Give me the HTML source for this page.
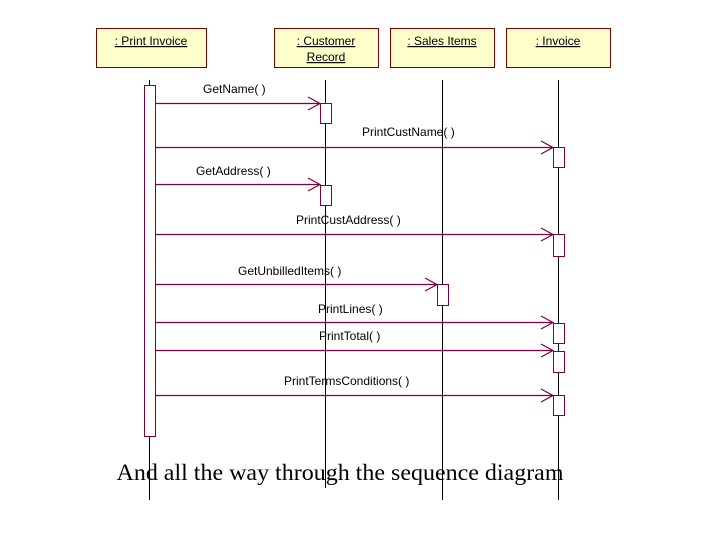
<!DOCTYPE html>
<html><head><meta charset="utf-8"><style>
html,body{margin:0;padding:0;background:#fff;}
svg{display:block;}
.lbl{font-family:"Liberation Sans",sans-serif;font-size:12px;fill:#000;}
.hdr{font-family:"Liberation Sans",sans-serif;font-size:12px;fill:#000;text-decoration:underline;}
</style></head><body>
<svg width="720" height="540" viewBox="0 0 720 540" xmlns="http://www.w3.org/2000/svg">
<g fill="#ffffcc" stroke="#800000" stroke-width="1">
<rect x="96.5" y="28.5" width="110" height="39"/>
<rect x="274.5" y="28.5" width="104" height="39"/>
<rect x="390.5" y="28.5" width="104" height="39"/>
<rect x="506.5" y="28.5" width="104" height="39"/>
</g>
<text class="hdr" x="151" y="45" text-anchor="middle">: Print Invoice</text>
<text class="hdr" x="326" y="45" text-anchor="middle">: Customer</text>
<text class="hdr" x="326" y="61" text-anchor="middle">Record</text>
<text class="hdr" x="442" y="45" text-anchor="middle">: Sales Items</text>
<text class="hdr" x="558" y="45" text-anchor="middle">: Invoice</text>
<g stroke="#000" stroke-width="1">
<line x1="149.5" y1="80" x2="149.5" y2="500"/>
<line x1="325.5" y1="80" x2="325.5" y2="488"/>
<line x1="442.5" y1="80" x2="442.5" y2="500"/>
<line x1="558.5" y1="80" x2="558.5" y2="500"/>
</g>
<g fill="#fff" stroke="#800040" stroke-width="1">
<rect x="144.5" y="85.5" width="11" height="351"/>
<rect x="320.5" y="103.5" width="11" height="20"/>
<rect x="553.5" y="147.5" width="11" height="20"/>
<rect x="320.5" y="185.5" width="11" height="20"/>
<rect x="553.5" y="234.5" width="11" height="22"/>
<rect x="437.5" y="284.5" width="11" height="21"/>
<rect x="553.5" y="323.5" width="11" height="20"/>
<rect x="553.5" y="351.5" width="11" height="21"/>
<rect x="553.5" y="395.5" width="11" height="20"/>
</g>
<g stroke="#800040" stroke-width="1.2" fill="none">
<path d="M155 103.5H320M308 97L320 103.5L308 110"/>
<path d="M155 147.5H553M541 141L553 147.5L541 154"/>
<path d="M155 184.5H320M308 178L320 184.5L308 191"/>
<path d="M155 234.5H553M541 228L553 234.5L541 241"/>
<path d="M155 284.5H437M425 278L437 284.5L425 291"/>
<path d="M155 322.5H553M541 316L553 322.5L541 329"/>
<path d="M155 350.5H553M541 344L553 350.5L541 357"/>
<path d="M155 395.5H553M541 389L553 395.5L541 402"/>
</g>
<text class="lbl" x="203" y="93">GetName( )</text>
<text class="lbl" x="362" y="136">PrintCustName( )</text>
<text class="lbl" x="196" y="175">GetAddress( )</text>
<text class="lbl" x="296" y="224">PrintCustAddress( )</text>
<text class="lbl" x="238" y="275">GetUnbilledItems( )</text>
<text class="lbl" x="318" y="313">PrintLines( )</text>
<text class="lbl" x="319" y="340">PrintTotal( )</text>
<text class="lbl" x="284" y="385">PrintTermsConditions( )</text>
<text x="340" y="480" text-anchor="middle" font-family="'Liberation Serif',serif" font-size="23" textLength="447" lengthAdjust="spacingAndGlyphs">And all the way through the sequence diagram</text>
</svg>
</body></html>
